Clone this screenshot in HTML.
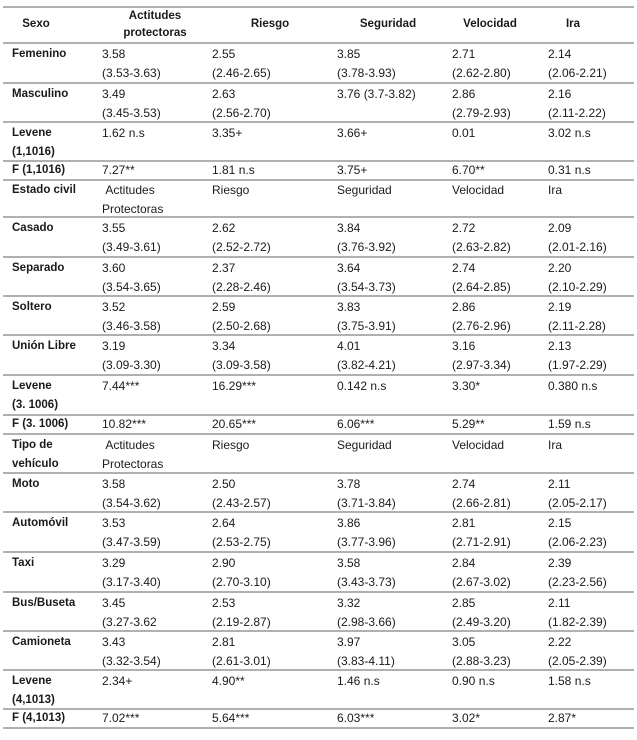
<!DOCTYPE html>
<html>
<head>
<meta charset="utf-8">
<style>
  html, body { margin:0; padding:0; background:#fff; }
  body { width:637px; height:740px; position:relative; overflow:hidden;
         font-family:"Liberation Sans", Arial, sans-serif; color:#1a1a1a; }
  .ln { position:absolute; left:3px; width:631px; height:2px; background:#b0b0b0; }
  .c { position:absolute; font-size:12px; line-height:19px; white-space:nowrap; }
  .b { font-weight:bold; font-size:11.5px; }
  .h { position:absolute; width:140px; text-align:center; font-weight:bold; font-size:11.5px; line-height:17px; white-space:nowrap; }
</style>
</head>
<body>
<!-- lines -->
<div class="ln" style="top:6px"></div>
<div class="ln" style="top:42px"></div>
<div class="ln" style="top:82px"></div>
<div class="ln" style="top:121px"></div>
<div class="ln" style="top:160px"></div>
<div class="ln" style="top:179px"></div>
<div class="ln" style="top:216px"></div>
<div class="ln" style="top:256px"></div>
<div class="ln" style="top:295px"></div>
<div class="ln" style="top:334px"></div>
<div class="ln" style="top:374px"></div>
<div class="ln" style="top:414px"></div>
<div class="ln" style="top:433px"></div>
<div class="ln" style="top:472px"></div>
<div class="ln" style="top:511px"></div>
<div class="ln" style="top:551px"></div>
<div class="ln" style="top:591px"></div>
<div class="ln" style="top:630px"></div>
<div class="ln" style="top:669px"></div>
<div class="ln" style="top:708px"></div>
<div class="ln" style="top:727px"></div>

<!-- header -->
<div class="h" style="left:-34px;top:16px">Sexo</div>
<div class="h" style="left:85px;top:8px">Actitudes<br>protectoras</div>
<div class="h" style="left:200px;top:16px">Riesgo</div>
<div class="h" style="left:318px;top:16px">Seguridad</div>
<div class="h" style="left:420px;top:16px">Velocidad</div>
<div class="h" style="left:503px;top:16px">Ira</div>

<!-- Row Femenino (43) -->
<div class="c b" style="left:12px;top:45px">Femenino</div>
<div class="c" style="left:102px;top:45px">3.58<br>(3.53-3.63)</div>
<div class="c" style="left:212px;top:45px">2.55<br>(2.46-2.65)</div>
<div class="c" style="left:337px;top:45px">3.85<br>(3.78-3.93)</div>
<div class="c" style="left:452px;top:45px">2.71<br>(2.62-2.80)</div>
<div class="c" style="left:548px;top:45px">2.14<br>(2.06-2.21)</div>

<!-- Masculino (83) -->
<div class="c b" style="left:12px;top:85px">Masculino</div>
<div class="c" style="left:102px;top:85px">3.49<br>(3.45-3.53)</div>
<div class="c" style="left:212px;top:85px">2.63<br>(2.56-2.70)</div>
<div class="c" style="left:337px;top:85px">3.76 (3.7-3.82)</div>
<div class="c" style="left:452px;top:85px">2.86<br>(2.79-2.93)</div>
<div class="c" style="left:548px;top:85px">2.16<br>(2.11-2.22)</div>

<!-- Levene (122) -->
<div class="c b" style="left:12px;top:124px">Levene<br>(1,1016)</div>
<div class="c" style="left:102px;top:124px">1.62 n.s</div>
<div class="c" style="left:212px;top:124px">3.35+</div>
<div class="c" style="left:337px;top:124px">3.66+</div>
<div class="c" style="left:452px;top:124px">0.01</div>
<div class="c" style="left:548px;top:124px">3.02 n.s</div>

<!-- F (161) -->
<div class="c b" style="left:12px;top:161px">F (1,1016)</div>
<div class="c" style="left:102px;top:161px">7.27**</div>
<div class="c" style="left:212px;top:161px">1.81 n.s</div>
<div class="c" style="left:337px;top:161px">3.75+</div>
<div class="c" style="left:452px;top:161px">6.70**</div>
<div class="c" style="left:548px;top:161px">0.31 n.s</div>

<!-- Estado civil (180) -->
<div class="c b" style="left:12px;top:181px">Estado civil</div>
<div class="c" style="left:102px;top:181px">&nbsp;Actitudes<br>Protectoras</div>
<div class="c" style="left:212px;top:181px">Riesgo</div>
<div class="c" style="left:337px;top:181px">Seguridad</div>
<div class="c" style="left:452px;top:181px">Velocidad</div>
<div class="c" style="left:548px;top:181px">Ira</div>

<!-- Casado (217) -->
<div class="c b" style="left:12px;top:219px">Casado</div>
<div class="c" style="left:102px;top:219px">3.55<br>(3.49-3.61)</div>
<div class="c" style="left:212px;top:219px">2.62<br>(2.52-2.72)</div>
<div class="c" style="left:337px;top:219px">3.84<br>(3.76-3.92)</div>
<div class="c" style="left:452px;top:219px">2.72<br>(2.63-2.82)</div>
<div class="c" style="left:548px;top:219px">2.09<br>(2.01-2.16)</div>

<!-- Separado (257) -->
<div class="c b" style="left:12px;top:259px">Separado</div>
<div class="c" style="left:102px;top:259px">3.60<br>(3.54-3.65)</div>
<div class="c" style="left:212px;top:259px">2.37<br>(2.28-2.46)</div>
<div class="c" style="left:337px;top:259px">3.64<br>(3.54-3.73)</div>
<div class="c" style="left:452px;top:259px">2.74<br>(2.64-2.85)</div>
<div class="c" style="left:548px;top:259px">2.20<br>(2.10-2.29)</div>

<!-- Soltero (296) -->
<div class="c b" style="left:12px;top:298px">Soltero</div>
<div class="c" style="left:102px;top:298px">3.52<br>(3.46-3.58)</div>
<div class="c" style="left:212px;top:298px">2.59<br>(2.50-2.68)</div>
<div class="c" style="left:337px;top:298px">3.83<br>(3.75-3.91)</div>
<div class="c" style="left:452px;top:298px">2.86<br>(2.76-2.96)</div>
<div class="c" style="left:548px;top:298px">2.19<br>(2.11-2.28)</div>

<!-- Unión Libre (335) -->
<div class="c b" style="left:12px;top:337px">Unión Libre</div>
<div class="c" style="left:102px;top:337px">3.19<br>(3.09-3.30)</div>
<div class="c" style="left:212px;top:337px">3.34<br>(3.09-3.58)</div>
<div class="c" style="left:337px;top:337px">4.01<br>(3.82-4.21)</div>
<div class="c" style="left:452px;top:337px">3.16<br>(2.97-3.34)</div>
<div class="c" style="left:548px;top:337px">2.13<br>(1.97-2.29)</div>

<!-- Levene (375) -->
<div class="c b" style="left:12px;top:377px">Levene<br>(3. 1006)</div>
<div class="c" style="left:102px;top:377px">7.44***</div>
<div class="c" style="left:212px;top:377px">16.29***</div>
<div class="c" style="left:337px;top:377px">0.142 n.s</div>
<div class="c" style="left:452px;top:377px">3.30*</div>
<div class="c" style="left:548px;top:377px">0.380 n.s</div>

<!-- F (415) -->
<div class="c b" style="left:12px;top:415px">F (3. 1006)</div>
<div class="c" style="left:102px;top:415px">10.82***</div>
<div class="c" style="left:212px;top:415px">20.65***</div>
<div class="c" style="left:337px;top:415px">6.06***</div>
<div class="c" style="left:452px;top:415px">5.29**</div>
<div class="c" style="left:548px;top:415px">1.59 n.s</div>

<!-- Tipo de vehículo (434) -->
<div class="c b" style="left:12px;top:436px">Tipo de<br>vehículo</div>
<div class="c" style="left:102px;top:436px">&nbsp;Actitudes<br>Protectoras</div>
<div class="c" style="left:212px;top:436px">Riesgo</div>
<div class="c" style="left:337px;top:436px">Seguridad</div>
<div class="c" style="left:452px;top:436px">Velocidad</div>
<div class="c" style="left:548px;top:436px">Ira</div>

<!-- Moto (473) -->
<div class="c b" style="left:12px;top:475px">Moto</div>
<div class="c" style="left:102px;top:475px">3.58<br>(3.54-3.62)</div>
<div class="c" style="left:212px;top:475px">2.50<br>(2.43-2.57)</div>
<div class="c" style="left:337px;top:475px">3.78<br>(3.71-3.84)</div>
<div class="c" style="left:452px;top:475px">2.74<br>(2.66-2.81)</div>
<div class="c" style="left:548px;top:475px">2.11<br>(2.05-2.17)</div>

<!-- Automóvil (512) -->
<div class="c b" style="left:12px;top:514px">Automóvil</div>
<div class="c" style="left:102px;top:514px">3.53<br>(3.47-3.59)</div>
<div class="c" style="left:212px;top:514px">2.64<br>(2.53-2.75)</div>
<div class="c" style="left:337px;top:514px">3.86<br>(3.77-3.96)</div>
<div class="c" style="left:452px;top:514px">2.81<br>(2.71-2.91)</div>
<div class="c" style="left:548px;top:514px">2.15<br>(2.06-2.23)</div>

<!-- Taxi (552) -->
<div class="c b" style="left:12px;top:554px">Taxi</div>
<div class="c" style="left:102px;top:554px">3.29<br>(3.17-3.40)</div>
<div class="c" style="left:212px;top:554px">2.90<br>(2.70-3.10)</div>
<div class="c" style="left:337px;top:554px">3.58<br>(3.43-3.73)</div>
<div class="c" style="left:452px;top:554px">2.84<br>(2.67-3.02)</div>
<div class="c" style="left:548px;top:554px">2.39<br>(2.23-2.56)</div>

<!-- Bus/Buseta (592) -->
<div class="c b" style="left:12px;top:594px">Bus/Buseta</div>
<div class="c" style="left:102px;top:594px">3.45<br>(3.27-3.62</div>
<div class="c" style="left:212px;top:594px">2.53<br>(2.19-2.87)</div>
<div class="c" style="left:337px;top:594px">3.32<br>(2.98-3.66)</div>
<div class="c" style="left:452px;top:594px">2.85<br>(2.49-3.20)</div>
<div class="c" style="left:548px;top:594px">2.11<br>(1.82-2.39)</div>

<!-- Camioneta (631) -->
<div class="c b" style="left:12px;top:633px">Camioneta</div>
<div class="c" style="left:102px;top:633px">3.43<br>(3.32-3.54)</div>
<div class="c" style="left:212px;top:633px">2.81<br>(2.61-3.01)</div>
<div class="c" style="left:337px;top:633px">3.97<br>(3.83-4.11)</div>
<div class="c" style="left:452px;top:633px">3.05<br>(2.88-3.23)</div>
<div class="c" style="left:548px;top:633px">2.22<br>(2.05-2.39)</div>

<!-- Levene (670) -->
<div class="c b" style="left:12px;top:672px">Levene<br>(4,1013)</div>
<div class="c" style="left:102px;top:672px">2.34+</div>
<div class="c" style="left:212px;top:672px">4.90**</div>
<div class="c" style="left:337px;top:672px">1.46 n.s</div>
<div class="c" style="left:452px;top:672px">0.90 n.s</div>
<div class="c" style="left:548px;top:672px">1.58 n.s</div>

<!-- F (709) -->
<div class="c b" style="left:12px;top:709px">F (4,1013)</div>
<div class="c" style="left:102px;top:709px">7.02***</div>
<div class="c" style="left:212px;top:709px">5.64***</div>
<div class="c" style="left:337px;top:709px">6.03***</div>
<div class="c" style="left:452px;top:709px">3.02*</div>
<div class="c" style="left:548px;top:709px">2.87*</div>
</body>
</html>
